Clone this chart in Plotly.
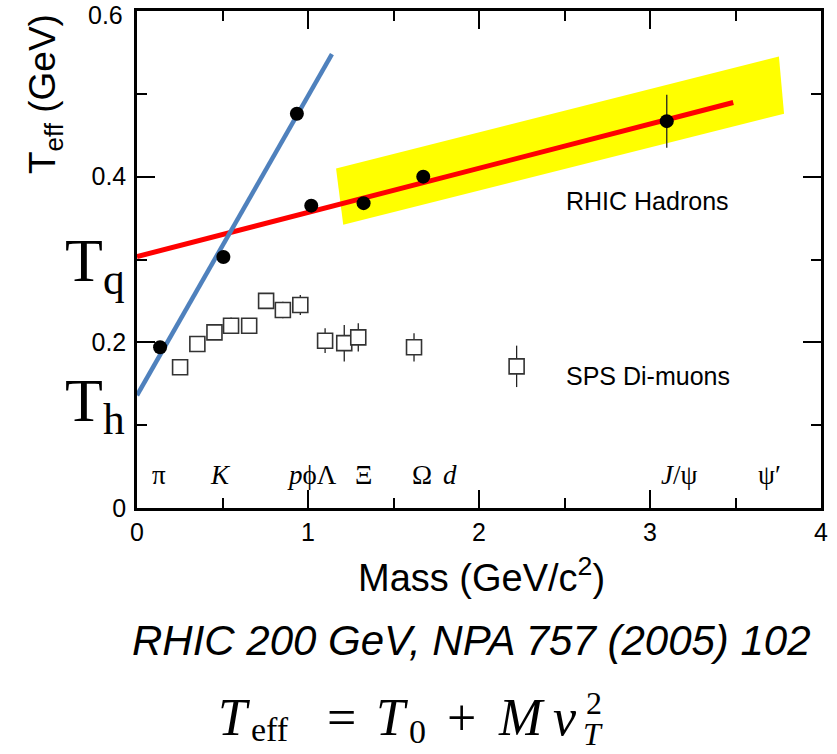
import plotly.graph_objects as go

# RHIC hadrons (filled circles): mass [GeV/c^2], effective temperature [GeV]
hadron_mass = [0.135, 0.505, 0.935, 1.019, 1.325, 1.674, 3.098]
hadron_teff = [0.194, 0.303, 0.476, 0.365, 0.368, 0.400, 0.467]
hadron_err = [0.0, 0.0, 0.0, 0.0, 0.0, 0.0, 0.032]

# SPS di-muons (open squares)
dimuon_mass = [0.252, 0.353, 0.453, 0.550, 0.656, 0.755, 0.853, 0.955,
               1.100, 1.212, 1.294, 1.620, 2.220]
dimuon_teff = [0.170, 0.198, 0.212, 0.220, 0.220, 0.250, 0.239, 0.245,
               0.202, 0.199, 0.206, 0.194, 0.171]
dimuon_err = [0.004, 0.009, 0.008, 0.010, 0.005, 0.009, 0.010, 0.012,
              0.015, 0.022, 0.017, 0.017, 0.025]

# Linear systematics T_eff = T0 + M v_T^2
quark_fit_mass = [0.0, 3.487]
quark_fit_teff = [0.3035, 0.4895]
hadron_fit_mass = [0.0, 1.14]
hadron_fit_teff = [0.136, 0.548]

# Shaded band around the quark-like trend
band_mass = [1.164, 1.206, 3.784, 3.754]
band_teff = [0.410, 0.342, 0.476, 0.545]

# Particle labels along the bottom of the frame
particle_names = ["π", "<i>K</i>", "<i>p</i>ϕΛ", "Ξ", "Ω", "<i>d</i>", "<i>J</i>/ψ", "ψ′"]
particle_pos = [0.129, 0.488, 1.026, 1.322, 1.665, 1.83, 3.17, 3.70]
particle_row = 0.04

x_ticks = [0, 1, 2, 3, 4]
y_ticks = [0, 0.2, 0.4, 0.6]
y_ticktext = ["0", "0.2", "0.4", ""]
y_top_label = "0.6"

W, H = 837, 754
L, R, T, B = 137, 821, 11, 508


def paper(px, py):
    return (px - L) / (R - L), (B - py) / (B - T)


SANS = "Liberation Sans, Arial, sans-serif"
SERIF = "Liberation Serif, Times New Roman, serif"

fig = go.Figure()

fig.add_trace(go.Scatter(
    x=band_mass + [band_mass[0]], y=band_teff + [band_teff[0]],
    fill="toself", fillcolor="#ffff00", mode="lines",
    line=dict(width=0, color="#ffff00"), hoverinfo="skip", showlegend=False))

fig.add_trace(go.Scatter(
    x=dimuon_mass, y=dimuon_teff, mode="markers",
    error_y=dict(type="data", array=dimuon_err, color="#222222", thickness=1.3, width=0),
    marker=dict(symbol="square", size=15, color="white",
                line=dict(color="#333333", width=1.6)),
    showlegend=False))

fig.add_trace(go.Scatter(
    x=quark_fit_mass, y=quark_fit_teff, mode="lines",
    line=dict(color="#ff0000", width=5), showlegend=False))

fig.add_trace(go.Scatter(
    x=hadron_fit_mass, y=hadron_fit_teff, mode="lines",
    line=dict(color="#4f81bd", width=4.5), showlegend=False))

fig.add_trace(go.Scatter(
    x=hadron_mass, y=hadron_teff, mode="markers",
    error_y=dict(type="data", array=hadron_err, color="#222222", thickness=1.3, width=0),
    marker=dict(symbol="circle", size=14, color="black"),
    showlegend=False))

annotations = []
for name, pos in zip(particle_names, particle_pos):
    annotations.append(dict(x=pos, y=particle_row, xref="x", yref="y", text=name,
                            showarrow=False, font=dict(family=SERIF, size=27, color="black")))


def add_text(px, py, text, size, family=SANS, angle=0, xanchor="center", yanchor="middle"):
    xp, yp = paper(px, py)
    annotations.append(dict(x=xp, y=yp, xref="paper", yref="paper", text=text,
                            showarrow=False, textangle=angle, xanchor=xanchor, yanchor=yanchor,
                            font=dict(family=family, size=size, color="black")))


# top y tick label, nudged down so it stays inside the page
add_text(125, 15, y_top_label, 25, xanchor="right")

add_text(45, 94, "T<sub>eff</sub> (GeV)", 37, angle=-90)
add_text(481, 575, "Mass (GeV/c<sup>2</sup>)", 38)
add_text(95, 264, "T<sub>q</sub>", 62, family=SERIF)
add_text(95, 404, "T<sub>h</sub>", 62, family=SERIF)
add_text(647, 201, "RHIC Hadrons", 25)
add_text(648, 376, "SPS Di-muons", 25)
add_text(471, 640, "<i>RHIC 200 GeV, NPA 757 (2005) 102</i>", 42)

# Formula T_eff = T_0 + M v_T^2, set piece by piece
add_text(216, 718, "<i>T</i>", 52, family=SERIF, xanchor="left")
add_text(249, 729, "eff", 34, family=SERIF, xanchor="left")
add_text(341, 718, "=", 52, family=SERIF)
add_text(374, 718, "<i>T</i>", 52, family=SERIF, xanchor="left")
add_text(407, 731, "0", 34, family=SERIF, xanchor="left")
add_text(461, 718, "+", 52, family=SERIF)
add_text(496, 718, "<i>M</i>", 52, family=SERIF, xanchor="left")
add_text(551, 718, "<i>v</i>", 52, family=SERIF, xanchor="left")
add_text(584, 703, "2", 32, family=SERIF, xanchor="left")
add_text(581, 734, "<i>T</i>", 32, family=SERIF, xanchor="left")

axis_common = dict(
    showline=True, linewidth=2.5, linecolor="black", mirror="ticks",
    ticks="inside", ticklen=18, tickwidth=1.5, tickcolor="black",
    showgrid=False, zeroline=False, automargin=False, ticklabeloverflow="allow",
    tickfont=dict(family=SANS, size=25, color="black"),
)

fig.update_layout(
    width=W, height=H,
    margin=dict(l=L, r=W - R, t=T, b=H - B),
    paper_bgcolor="white", plot_bgcolor="white",
    xaxis=dict(range=[0, 4], tickvals=x_ticks, ticktext=[str(v) for v in x_ticks],
               minor=dict(dtick=0.5, ticklen=10, ticks="inside", tickwidth=1.5,
                          tickcolor="black", showgrid=False),
               **axis_common),
    yaxis=dict(range=[0, 0.6], tickvals=y_ticks, ticktext=y_ticktext,
               ticklabelstandoff=3,
               minor=dict(dtick=0.1, ticklen=10, ticks="inside", tickwidth=1.5,
                          tickcolor="black", showgrid=False),
               **axis_common),
    annotations=annotations,
)

fig.write_html("out.html")
